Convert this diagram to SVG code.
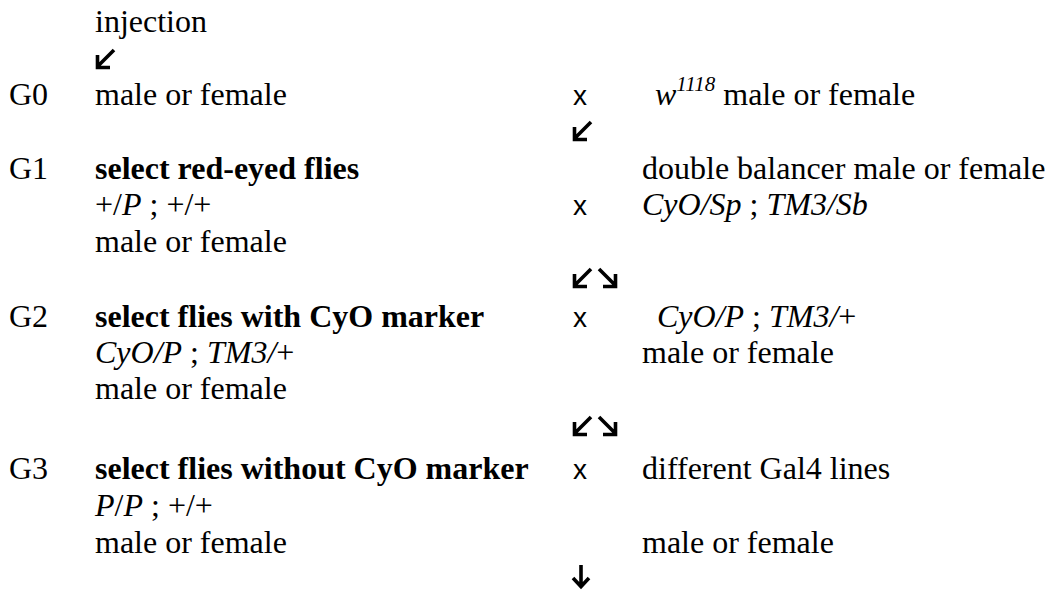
<svg xmlns="http://www.w3.org/2000/svg" width="1048" height="590" viewBox="0 0 1048 590">
<style>
text{font-family:"Liberation Serif","Times New Roman",serif;font-size:32px;fill:#000}
.b{font-weight:bold}
.i{font-style:italic}
.n{font-style:normal}
.x{font-family:"Liberation Sans",Arial,sans-serif;font-size:28px}
.arr{fill:none;stroke:#000;stroke-width:3.6;stroke-linecap:butt;stroke-linejoin:miter}
</style>
<rect width="1048" height="590" fill="#fff"/>
<g id="injection"><text x="95" y="32">injection</text></g>
<g id="G0">
<text x="9" y="105">G0</text>
<text x="95" y="105">male or female</text>
</g>
<g id="w1118">
<text class="x" x="573" y="105">x</text>
<text x="655" y="105"><tspan class="i">w</tspan><tspan class="i" font-size="21" dy="-14">1118</tspan><tspan dy="14"> male or female</tspan></text>
</g>
<g id="G1">
<text x="9" y="179">G1</text>
<text class="b" x="95" y="179">select red-eyed flies</text>
<text x="95" y="215">+/<tspan class="i">P</tspan> ; +/+</text>
<text x="95" y="252">male or female</text>
</g>
<g id="balancer">
<text x="642" y="179">double balancer male or female</text>
<text class="x" x="573" y="215">x</text>
<text class="i" x="642" y="215">CyO/Sp<tspan class="n"> ; </tspan>TM3/Sb</text>
</g>
<g id="G2">
<text x="9" y="327">G2</text>
<text class="b" x="95" y="327">select flies with CyO marker</text>
<text class="i" x="95" y="363">CyO/P<tspan class="n"> ; </tspan>TM3/<tspan class="n">+</tspan></text>
<text x="95" y="399">male or female</text>
</g>
<g id="G2cross">
<text class="x" x="573" y="327">x</text>
<text class="i" x="657" y="327">CyO/P<tspan class="n"> ; </tspan>TM3/<tspan class="n">+</tspan></text>
<text x="642" y="363">male or female</text>
</g>
<g id="G3">
<text x="9" y="479">G3</text>
<text class="b" x="95" y="479">select flies without CyO marker</text>
<text x="95" y="516"><tspan class="i">P</tspan>/<tspan class="i">P</tspan> ; +/+</text>
<text x="95" y="553">male or female</text>
</g>
<g id="gal4">
<text class="x" x="573" y="479">x</text>
<text x="642" y="479">different Gal4 lines</text>
<text x="642" y="553">male or female</text>
</g>
<g id="connectors">
<path class="arr" d="M114,50 L97,67 M97.5,55 V67.5 H110"/>
<path class="arr" d="M591,122 L574,139 M574.5,127 V139.5 H587"/>
<path class="arr" d="M591,269 L574,286 M574.5,274 V286.5 H587"/>
<path class="arr" d="M599,269 L616,286 M603,286.5 H615.5 V274"/>
<path class="arr" d="M591,417 L574,434 M574.5,422 V434.5 H587"/>
<path class="arr" d="M599,417 L616,434 M603,434.5 H615.5 V422"/>
<path class="arr" d="M581,565 V587 M573,578 L581,586.5 L589,578"/>
</g>
</svg>
